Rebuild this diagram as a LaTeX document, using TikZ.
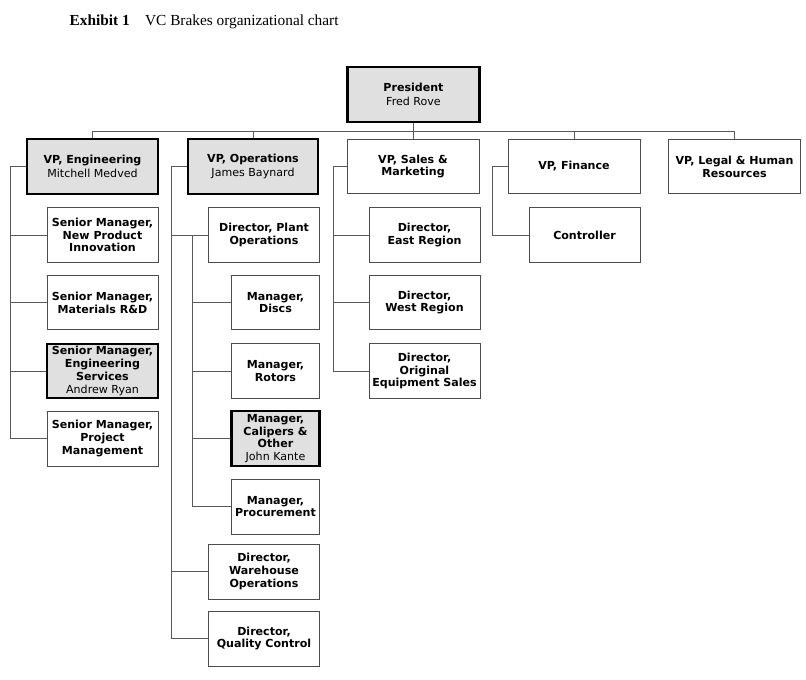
\documentclass[tikz,border=0pt]{standalone}
\usepackage{fontspec}
\setmainfont{Liberation Serif}
\newfontfamily\vfont{DejaVu Sans}
\begin{document}
\begin{tikzpicture}[x=0.75pt,y=-0.75pt,
 box/.style={draw=black!70,line width=0.5pt,fill=white,inner sep=0pt,align=center,font=\vfont\fontsize{8.3}{9.6}\selectfont\bfseries},
 key/.style={box,draw=black,line width=1.6pt,fill=black!12},
 ln/.style={draw=black!65,line width=0.5pt}]
\useasboundingbox (0,0) rectangle (806,680);
\node[anchor=west,font=\fontsize{11.5}{13}\selectfont] (title) at (65,22) {\textbf{Exhibit 1}\quad VC Brakes organizational chart};
\newcommand{\bx}[6]{\node[#1,minimum width=#4*0.75pt-0.75pt,minimum height=#5*0.75pt-0.75pt] (#2) at ({(#3)},{(#6)}) {};}
% president
\node[key,minimum width=99pt,minimum height=41pt] (pres) at (413.5,94.5) {President\\[1pt]\mdseries Fred Rove};
\node[key,minimum width=98pt,minimum height=41pt] (ve) at (92.5,166.5) {VP, Engineering\\[1pt]\mdseries Mitchell Medved};
\node[key,minimum width=98pt,minimum height=41pt] (vo) at (253,166.5) {VP, Operations\\[1pt]\mdseries James Baynard};
\node[box,minimum width=99pt,minimum height=41pt] (vs) at (413,166.5) {VP, Sales \&\\Marketing};
\node[box,minimum width=99pt,minimum height=41pt] (vf) at (574,166.5) {VP, Finance};
\node[box,minimum width=99pt,minimum height=41pt] (vl) at (734.5,166.5) {VP, Legal \& Human\\Resources};
\coordinate (bus) at (0,131);
\draw[ln] (pres.south) -- (pres.south|-bus);
\draw[ln] (ve.north|-bus) -- (vl.north|-bus);
\foreach \v in {ve,vo,vs,vf,vl} \draw[ln] (\v.north) -- (\v.north|-bus);
\tikzset{ch/.style={box,minimum width=83pt,minimum height=41pt}, chk/.style={key,minimum width=83pt,minimum height=41pt},
 mg/.style={box,minimum width=66pt,minimum height=41pt}, mgk/.style={key,minimum width=66pt,minimum height=41pt}}
% engineering
\node[ch] (e1) at (102.5,235) {Senior Manager,\\New Product\\Innovation};
\node[ch] (e2) at (102.5,302.5) {Senior Manager,\\Materials R\&D};
\node[chk] (e3) at (102.5,371) {Senior Manager,\\Engineering\\Services\\\mdseries Andrew Ryan};
\node[ch] (e4) at (102.5,438.5) {Senior Manager,\\Project\\Management};
\coordinate (ex) at (10,0);
\draw[ln] (ve.west) -- (ve.west-|ex) -- (e4.west-|ex) -- (e4.west);
\foreach \c in {e1,e2,e3} \draw[ln] (\c.west-|ex) -- (\c.west);
% operations
\node[ch] (o1) at (264,235) {Director, Plant\\Operations};
\node[mg] (m1) at (275.5,302.5) {Manager,\\Discs};
\node[mg] (m2) at (275.5,371) {Manager,\\Rotors};
\node[mgk] (m3) at (275.5,438.5) {Manager,\\Calipers \&\\Other\\\mdseries John Kante};
\node[mg] (m4) at (275.5,506.5) {Manager,\\Procurement};
\node[ch] (o2) at (264,571.5) {Director,\\Warehouse\\Operations};
\node[ch] (o3) at (264,638.5) {Director,\\Quality Control};
\coordinate (ox) at (171,0); \coordinate (mx) at (192,0);
\draw[ln] (vo.west) -- (vo.west-|ox) -- (o3.west-|ox) -- (o3.west);
\foreach \c in {o1,o2} \draw[ln] (\c.west-|ox) -- (\c.west);
\draw[ln] (o1.west-|mx) -- (m4.west-|mx) -- (m4.west);
\foreach \c in {m1,m2,m3} \draw[ln] (\c.west-|mx) -- (\c.west);
% sales
\node[ch] (s1) at (424.5,235) {Director,\\East Region};
\node[ch] (s2) at (424.5,302.5) {Director,\\West Region};
\node[ch] (s3) at (424.5,371) {Director,\\Original\\Equipment Sales};
\coordinate (sx) at (333,0);
\draw[ln] (vs.west) -- (vs.west-|sx) -- (s3.west-|sx) -- (s3.west);
\foreach \c in {s1,s2} \draw[ln] (\c.west-|sx) -- (\c.west);
% finance
\node[ch] (f1) at (584.5,235) {Controller};
\coordinate (fx) at (492,0);
\draw[ln] (vf.west) -- (vf.west-|fx) -- (f1.west-|fx) -- (f1.west);
\end{tikzpicture}
\end{document}
